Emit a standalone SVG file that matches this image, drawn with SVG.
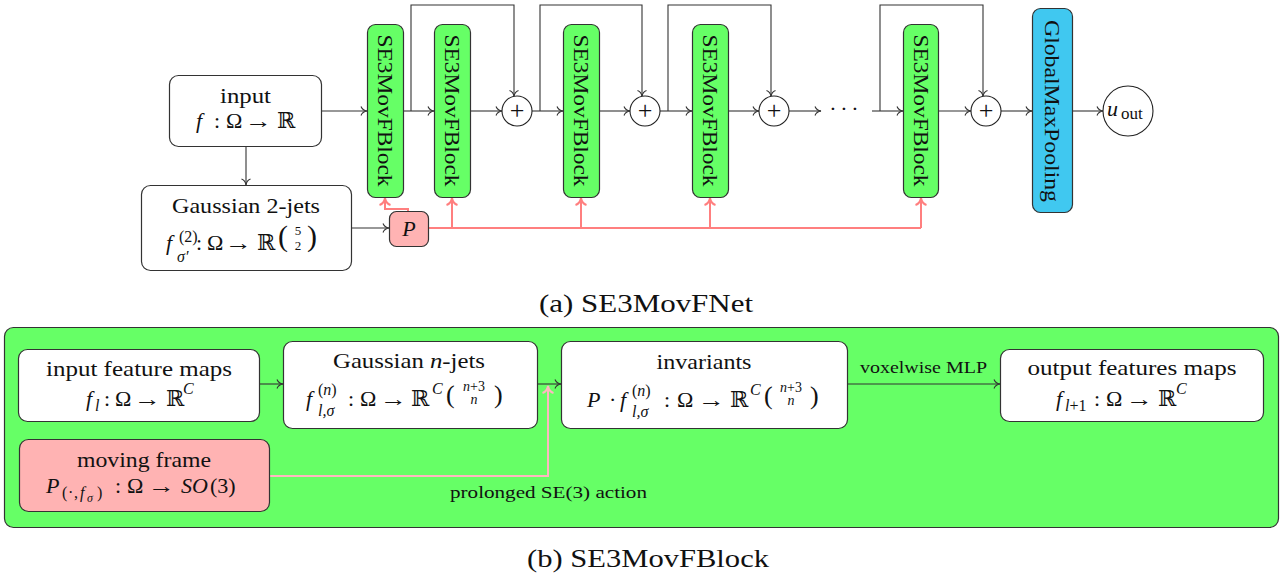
<svg xmlns="http://www.w3.org/2000/svg" width="1285" height="581" viewBox="0 0 1285 581">
<style>
.t{font-family:"Liberation Serif","DejaVu Serif",serif;font-size:22px;fill:#111}
.i{font-style:italic}
.s{font-size:16px}
.xs{font-size:12px}
.sm{font-family:"Liberation Serif","DejaVu Serif",serif;font-size:17px;fill:#111}
.cap{font-family:"Liberation Serif","DejaVu Serif",serif;font-size:26px;fill:#111;text-anchor:middle}
.box{fill:#fff;stroke:#333;stroke-width:1.2}
.grn{fill:#66ff66;stroke:#333;stroke-width:1.2}
.cyn{fill:#40c8f0;stroke:#333;stroke-width:1.2}
.pnk{fill:#ffb3b3;stroke:#333;stroke-width:1.2}
.circ{fill:#fff;stroke:#222;stroke-width:1.1}
.ln{fill:none;stroke:#333;stroke-width:1.1}
.red{fill:none;stroke:#ff7f7f;stroke-width:2}
.pk{fill:none;stroke:#ffb8c0;stroke-width:2}
.rot{text-anchor:middle;dominant-baseline:central}
.mid{text-anchor:middle}
</style>
<defs>
<marker id="ab" viewBox="-8 -6 10 12" refX="0" refY="0" markerWidth="10" markerHeight="12" orient="auto" markerUnits="userSpaceOnUse">
<path d="M-6,-4.5 C-5,-1.8 -2.5,-0.4 0,0 C-2.5,0.4 -5,1.8 -6,4.5" fill="none" stroke="#333" stroke-width="1.1"/>
</marker>
<marker id="ar" viewBox="-10 -7 12 14" refX="0" refY="0" markerWidth="12" markerHeight="14" orient="auto" markerUnits="userSpaceOnUse">
<path d="M-7,-5.5 C-6,-2.2 -3,-0.5 0,0 C-3,0.5 -6,2.2 -7,5.5" fill="none" stroke="#ff7f7f" stroke-width="2"/>
</marker>
<marker id="ap" viewBox="-10 -7 12 14" refX="0" refY="0" markerWidth="12" markerHeight="14" orient="auto" markerUnits="userSpaceOnUse">
<path d="M-7,-5.5 C-6,-2.2 -3,-0.5 0,0 C-3,0.5 -6,2.2 -7,5.5" fill="none" stroke="#ffb8c0" stroke-width="2"/>
</marker>
</defs>

<g id="panel-b">
<rect x="4.5" y="327.5" width="1274" height="200" rx="9" class="grn"/>
</g>

<g id="connectors">
<path class="ln" d="M322,111 H367" marker-end="url(#ab)"/>
<path class="ln" d="M246,147 V185" marker-end="url(#ab)"/>
<path class="ln" d="M351,228 H389" marker-end="url(#ab)"/>
<path class="ln" d="M403,111 H434" marker-end="url(#ab)"/>
<path class="ln" d="M470,111 H502" marker-end="url(#ab)"/>
<path class="ln" d="M532,111 H563" marker-end="url(#ab)"/>
<path class="ln" d="M599,111 H630" marker-end="url(#ab)"/>
<path class="ln" d="M660,111 H692" marker-end="url(#ab)"/>
<path class="ln" d="M728,111 H759" marker-end="url(#ab)"/>
<path class="ln" d="M789,111 H821" marker-end="url(#ab)"/>
<path class="ln" d="M872,111 H903" marker-end="url(#ab)"/>
<path class="ln" d="M938,111 H971" marker-end="url(#ab)"/>
<path class="ln" d="M1001,111 H1032" marker-end="url(#ab)"/>
<path class="ln" d="M1072,111 H1103" marker-end="url(#ab)"/>
<path class="ln" d="M411,111 V5 H514 V96.5" marker-end="url(#ab)"/>
<path class="ln" d="M540,111 V5 H642 V96.5" marker-end="url(#ab)"/>
<path class="ln" d="M668,111 V5 H771 V96.5" marker-end="url(#ab)"/>
<path class="ln" d="M880,111 V5 H983 V96.5" marker-end="url(#ab)"/>
<path class="red" d="M408,211 V209 H385 V198" marker-end="url(#ar)"/>
<path class="red" d="M428,228 H921"/>
<path class="red" d="M452,228 V198" marker-end="url(#ar)"/>
<path class="red" d="M581,228 V198" marker-end="url(#ar)"/>
<path class="red" d="M710,228 V198" marker-end="url(#ar)"/>
<path class="red" d="M921,228 V198" marker-end="url(#ar)"/>
<path class="ln" d="M259,384 H283" marker-end="url(#ab)"/>
<path class="ln" d="M537,384 H561" marker-end="url(#ab)"/>
<path class="ln" d="M847,384 H1000" marker-end="url(#ab)"/>
<path class="pk" d="M269,476 H548 V386" marker-end="url(#ap)"/>
<text class="sm" x="860" y="373" textLength="127" lengthAdjust="spacingAndGlyphs">voxelwise MLP</text>
<text class="sm" x="450" y="498" textLength="197" lengthAdjust="spacingAndGlyphs">prolonged SE(3) action</text>
</g>

<g id="input">
<rect x="169.5" y="75.5" width="152" height="71" rx="9" class="box"/>
<text class="t mid" x="245.5" y="103" textLength="51" lengthAdjust="spacingAndGlyphs">input</text>
<text class="t"><tspan class="i" x="196" y="128">f</tspan><tspan x="214" y="128">:</tspan><tspan x="226" y="128">Ω</tspan><tspan x="245" y="128" textLength="27" lengthAdjust="spacingAndGlyphs">→</tspan><tspan x="277" y="128">ℝ</tspan></text>
</g>

<g id="gauss2">
<rect x="141.5" y="185.5" width="210" height="85" rx="9" class="box"/>
<text class="t mid" x="246" y="213" textLength="148" lengthAdjust="spacingAndGlyphs">Gaussian 2-jets</text>
<text class="t"><tspan class="i" x="166" y="250">f</tspan><tspan class="s" x="179" y="242">(2)</tspan><tspan class="s i" x="177" y="262">σ′</tspan><tspan x="196" y="250">:</tspan><tspan x="207" y="250">Ω</tspan><tspan x="225" y="250" textLength="27" lengthAdjust="spacingAndGlyphs">→</tspan><tspan x="257" y="250">ℝ</tspan><tspan x="278" y="246" style="font-size:30px">(</tspan><tspan x="307" y="246" style="font-size:30px">)</tspan></text>
<text class="t mid" style="font-size:13px"><tspan x="298" y="235">5</tspan><tspan x="298" y="250">2</tspan></text>
</g>

<g id="block1">
<rect x="367.5" y="24.5" width="36" height="173" rx="8" class="grn"/>
<text class="t rot" transform="translate(385.5,110.5) rotate(90)" textLength="152" lengthAdjust="spacingAndGlyphs">SE3MovFBlock</text>
</g>
<g id="block2">
<rect x="434.5" y="24.5" width="36" height="173" rx="8" class="grn"/>
<text class="t rot" transform="translate(452.5,110.5) rotate(90)" textLength="152" lengthAdjust="spacingAndGlyphs">SE3MovFBlock</text>
</g>
<g id="block3">
<rect x="563.5" y="24.5" width="36" height="173" rx="8" class="grn"/>
<text class="t rot" transform="translate(581.5,110.5) rotate(90)" textLength="152" lengthAdjust="spacingAndGlyphs">SE3MovFBlock</text>
</g>
<g id="block4">
<rect x="692.5" y="24.5" width="36" height="173" rx="8" class="grn"/>
<text class="t rot" transform="translate(710.5,110.5) rotate(90)" textLength="152" lengthAdjust="spacingAndGlyphs">SE3MovFBlock</text>
</g>
<g id="block5">
<rect x="903.5" y="24.5" width="35" height="173" rx="8" class="grn"/>
<text class="t rot" transform="translate(921,110.5) rotate(90)" textLength="152" lengthAdjust="spacingAndGlyphs">SE3MovFBlock</text>
</g>

<g id="plus1"><circle cx="517" cy="111" r="15" class="circ"/><text class="t mid" x="517" y="119" style="font-size:26px">+</text></g>
<g id="plus2"><circle cx="645" cy="111" r="15" class="circ"/><text class="t mid" x="645" y="119" style="font-size:26px">+</text></g>
<g id="plus3"><circle cx="774" cy="111" r="15" class="circ"/><text class="t mid" x="774" y="119" style="font-size:26px">+</text></g>
<g id="plus4"><circle cx="986" cy="111" r="15" class="circ"/><text class="t mid" x="986" y="119" style="font-size:26px">+</text></g>

<g id="dots"><text class="t mid" x="833 844 855" y="116">···</text></g>

<g id="gmp">
<rect x="1032.5" y="8.5" width="40" height="204" rx="8" class="cyn"/>
<text class="t rot" transform="translate(1052.5,111) rotate(90)" textLength="182" lengthAdjust="spacingAndGlyphs">GlobalMaxPooling</text>
</g>

<g id="uout">
<circle cx="1128" cy="111" r="25" class="circ"/>
<text class="t"><tspan class="i" x="1107" y="116">u</tspan><tspan x="1121" y="119" style="font-size:17px">out</tspan></text>
</g>

<g id="P">
<rect x="389.5" y="211.5" width="39" height="35" rx="7" class="pnk"/>
<text class="t i mid" x="409" y="236">P</text>
</g>

<text class="cap" x="646" y="312" textLength="214" lengthAdjust="spacingAndGlyphs">(a) SE3MovFNet</text>

<g id="ifm">
<rect x="18.5" y="349.5" width="241" height="72" rx="9" class="box"/>
<text class="t mid" x="139" y="376" textLength="186" lengthAdjust="spacingAndGlyphs">input feature maps</text>
<text class="t"><tspan class="i" x="86" y="406">f</tspan><tspan class="s i" x="95" y="411">l</tspan><tspan x="104" y="406">:</tspan><tspan x="115" y="406">Ω</tspan><tspan x="134" y="406" textLength="27" lengthAdjust="spacingAndGlyphs">→</tspan><tspan x="166" y="406">ℝ</tspan><tspan class="s i" x="183" y="394">C</tspan></text>
</g>

<g id="gnj">
<rect x="283.5" y="341.5" width="254" height="87" rx="9" class="box"/>
<text class="t mid" x="409" y="368" textLength="152" lengthAdjust="spacingAndGlyphs">Gaussian <tspan class="i">n</tspan>-jets</text>
<text class="t"><tspan class="i" x="306" y="406">f</tspan><tspan class="s" x="318" y="395">(<tspan class="i">n</tspan>)</tspan><tspan class="s i" x="318" y="416">l,σ</tspan><tspan x="348" y="406">:</tspan><tspan x="360" y="406">Ω</tspan><tspan x="380" y="406" textLength="27" lengthAdjust="spacingAndGlyphs">→</tspan><tspan x="411" y="406">ℝ</tspan><tspan class="s i" x="432" y="394">C</tspan><tspan x="446" y="403" style="font-size:26px">(</tspan><tspan x="494" y="403" style="font-size:26px">)</tspan></text>
<text class="t mid" style="font-size:14px"><tspan x="474" y="391"><tspan class="i">n</tspan>+3</tspan><tspan class="i" x="474" y="404">n</tspan></text>
</g>

<g id="inv">
<rect x="561.5" y="341.5" width="286" height="87" rx="9" class="box"/>
<text class="t mid" x="704" y="369" textLength="95" lengthAdjust="spacingAndGlyphs">invariants</text>
<text class="t"><tspan class="i" x="587" y="407">P</tspan><tspan x="609" y="407">·</tspan><tspan class="i" x="620" y="407">f</tspan><tspan class="s" x="632" y="396">(<tspan class="i">n</tspan>)</tspan><tspan class="s i" x="632" y="417">l,σ</tspan><tspan x="664" y="407">:</tspan><tspan x="677" y="407">Ω</tspan><tspan x="698" y="407" textLength="27" lengthAdjust="spacingAndGlyphs">→</tspan><tspan x="730" y="407">ℝ</tspan><tspan class="s i" x="750" y="395">C</tspan><tspan x="764" y="404" style="font-size:26px">(</tspan><tspan x="810" y="404" style="font-size:26px">)</tspan></text>
<text class="t mid" style="font-size:14px"><tspan x="791" y="392"><tspan class="i">n</tspan>+3</tspan><tspan class="i" x="791" y="405">n</tspan></text>
</g>

<g id="ofm">
<rect x="1000.5" y="349.5" width="263" height="72" rx="9" class="box"/>
<text class="t mid" x="1132" y="375" textLength="209" lengthAdjust="spacingAndGlyphs">output features maps</text>
<text class="t"><tspan class="i" x="1056" y="406">f</tspan><tspan class="s" x="1065" y="411"><tspan class="i">l</tspan>+1</tspan><tspan x="1094" y="406">:</tspan><tspan x="1106" y="406">Ω</tspan><tspan x="1126" y="406" textLength="27" lengthAdjust="spacingAndGlyphs">→</tspan><tspan x="1158" y="406">ℝ</tspan><tspan class="s i" x="1176" y="394">C</tspan></text>
</g>

<g id="mf">
<rect x="19.5" y="439.5" width="250" height="72" rx="9" class="pnk"/>
<text class="t mid" x="144" y="467" textLength="134" lengthAdjust="spacingAndGlyphs">moving frame</text>
<text class="t"><tspan class="i" x="46" y="493">P</tspan><tspan class="s" x="62" y="498">(</tspan><tspan class="s" x="68" y="498">·</tspan><tspan class="s" x="74" y="498">,</tspan><tspan class="s i" x="80" y="498">f</tspan><tspan class="xs i" x="87" y="502">σ</tspan><tspan class="s" x="97" y="498">)</tspan><tspan x="115" y="493">:</tspan><tspan x="127" y="493">Ω</tspan><tspan x="148" y="493" textLength="27" lengthAdjust="spacingAndGlyphs">→</tspan><tspan class="i" x="181" y="493">SO</tspan><tspan x="210" y="493">(3)</tspan></text>
</g>

<text class="cap" x="648" y="567" textLength="242" lengthAdjust="spacingAndGlyphs">(b) SE3MovFBlock</text>
</svg>
